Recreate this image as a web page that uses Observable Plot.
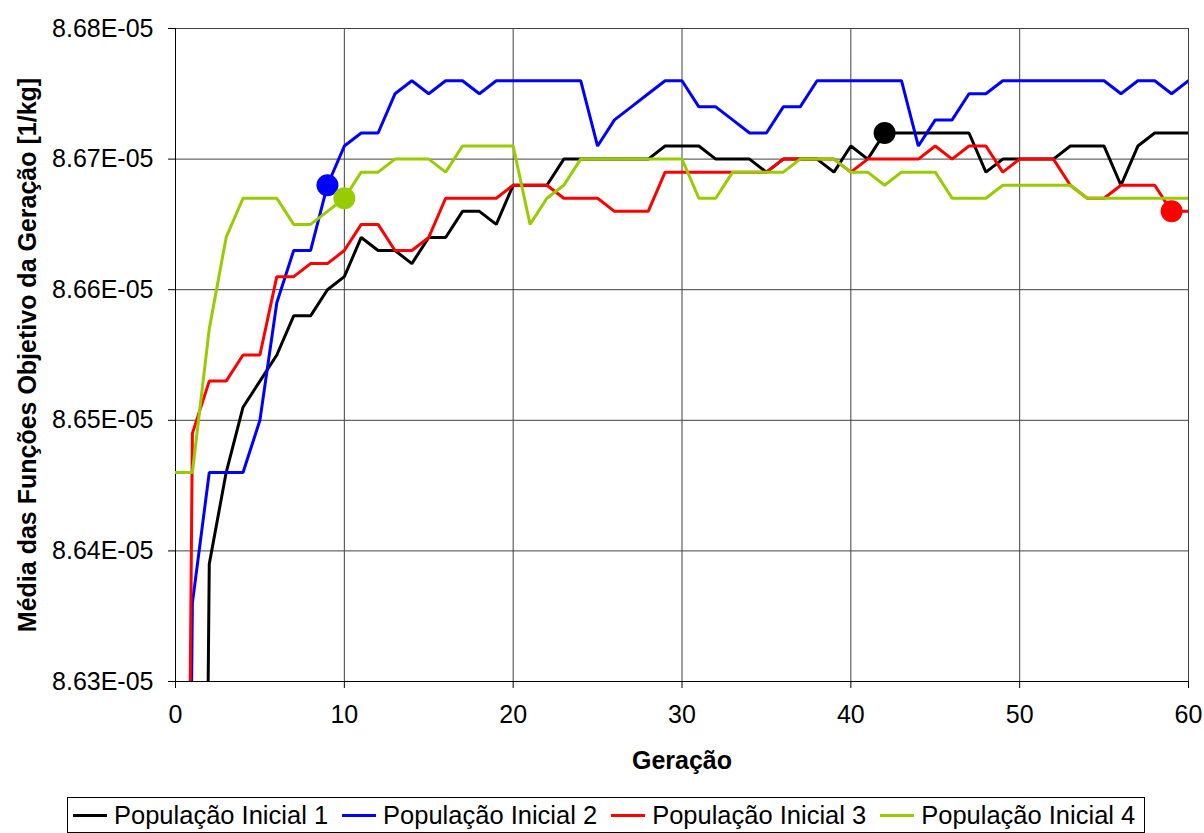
<!DOCTYPE html>
<html>
<head>
<meta charset="utf-8">
<script src="https://cdn.jsdelivr.net/npm/d3@7"></script>
<script src="https://cdn.jsdelivr.net/npm/@observablehq/plot@0.6"></script>
<style>
  html, body { margin: 0; padding: 0; background: #fff; }
  #wrap { position: relative; width: 1204px; height: 833px; overflow: hidden; font-family: Arial, "Liberation Sans", sans-serif; }
  #legend { position: absolute; left: 67px; top: 797px; width: 1071px; height: 34px; border: 1px solid #000; box-sizing: content-box;
            padding-left: 5px; display: flex; align-items: center; font-size: 25.5px; color: #000; white-space: nowrap; }
  .item { display: flex; align-items: center; margin-right: 14px; }
  .sw { width: 34px; height: 3px; margin-right: 7px; }
</style>
</head>
<body>
<div id="wrap"><div id="chart"></div><div id="legend"></div></div>
<script>
// Generations 0..60
const generations = d3.range(0, 61);
const seriesNames = ["População Inicial 1", "População Inicial 2", "População Inicial 3", "População Inicial 4"];
const seriesColors = ["#000000", "#0000FF", "#FF0000", "#99CC00"];
// Values in units of 1E-05 [1/kg]; 8.50 marks early generations far below the visible range
const pop1 = [8.50, 8.50, 8.639, 8.646, 8.651, 8.653, 8.655, 8.658, 8.658, 8.660,
  8.661, 8.664, 8.663, 8.663, 8.662, 8.664, 8.664, 8.666, 8.666, 8.665,
  8.668, 8.668, 8.668, 8.670, 8.670, 8.670, 8.670, 8.670, 8.670, 8.671,
  8.671, 8.671, 8.670, 8.670, 8.670, 8.669, 8.670, 8.670, 8.670, 8.669,
  8.671, 8.670, 8.672, 8.672, 8.672, 8.672, 8.672, 8.672, 8.669, 8.670,
  8.670, 8.670, 8.670, 8.671, 8.671, 8.671, 8.668, 8.671, 8.672, 8.672, 8.672];
const pop2 = [8.50, 8.636, 8.646, 8.646, 8.646, 8.650, 8.659, 8.663, 8.663, 8.668,
  8.671, 8.672, 8.672, 8.675, 8.676, 8.675, 8.676, 8.676, 8.675, 8.676,
  8.676, 8.676, 8.676, 8.676, 8.676, 8.671, 8.673, 8.674, 8.675, 8.676,
  8.676, 8.674, 8.674, 8.673, 8.672, 8.672, 8.674, 8.674, 8.676, 8.676,
  8.676, 8.676, 8.676, 8.676, 8.671, 8.673, 8.673, 8.675, 8.675, 8.676,
  8.676, 8.676, 8.676, 8.676, 8.676, 8.676, 8.675, 8.676, 8.676, 8.675, 8.676];
const pop3 = [8.50, 8.649, 8.653, 8.653, 8.655, 8.655, 8.661, 8.661, 8.662, 8.662,
  8.663, 8.665, 8.665, 8.663, 8.663, 8.664, 8.667, 8.667, 8.667, 8.667,
  8.668, 8.668, 8.668, 8.667, 8.667, 8.667, 8.666, 8.666, 8.666, 8.669,
  8.669, 8.669, 8.669, 8.669, 8.669, 8.669, 8.670, 8.670, 8.670, 8.670,
  8.669, 8.670, 8.670, 8.670, 8.670, 8.671, 8.670, 8.671, 8.671, 8.669,
  8.670, 8.670, 8.670, 8.668, 8.667, 8.667, 8.668, 8.668, 8.668, 8.666, 8.666];
const pop4 = [8.646, 8.646, 8.657, 8.664, 8.667, 8.667, 8.667, 8.665, 8.665, 8.666,
  8.667, 8.669, 8.669, 8.670, 8.670, 8.670, 8.669, 8.671, 8.671, 8.671,
  8.671, 8.665, 8.667, 8.668, 8.670, 8.670, 8.670, 8.670, 8.670, 8.670,
  8.670, 8.667, 8.667, 8.669, 8.669, 8.669, 8.669, 8.670, 8.670, 8.670,
  8.669, 8.669, 8.668, 8.669, 8.669, 8.669, 8.667, 8.667, 8.667, 8.668,
  8.668, 8.668, 8.668, 8.668, 8.667, 8.667, 8.667, 8.667, 8.667, 8.667, 8.667];
// Highlighted generation for each population (large dot)
const highlightGen = [42, 9, 59, 10];
const xTicks = [0, 10, 20, 30, 40, 50, 60];
const yTicks = [8.63, 8.64, 8.65, 8.66, 8.67, 8.68];

const allSeries = [pop1, pop2, pop3, pop4];
const rows = [];
allSeries.forEach((arr, i) => generations.forEach((g, j) => rows.push({series: seriesNames[i], gen: g, value: arr[j]})));
const dots = highlightGen.map((g, i) => ({series: seriesNames[i], gen: g, value: allSeries[i][g]}));

const fmt = d => d.toFixed(2) + "E-05";
const font = "Arial, 'Liberation Sans', sans-serif";

const chart = Plot.plot({
  width: 1204,
  height: 790,
  marginLeft: 175,
  marginRight: 16,
  marginTop: 28,
  marginBottom: 109,
  style: {fontSize: "25px", fontFamily: font, color: "#000", background: "#fff"},
  x: {domain: [0, 60]},
  y: {domain: [8.63, 8.68]},
  color: {domain: seriesNames, range: seriesColors},
  marks: [
    Plot.gridX(xTicks, {stroke: "#404040", strokeOpacity: 1, strokeWidth: 1}),
    Plot.gridY(yTicks, {stroke: "#404040", strokeOpacity: 1, strokeWidth: 1}),
    Plot.axisX({ticks: xTicks, tickSize: 7, tickPadding: 17, label: null, tickFormat: d => String(d)}),
    Plot.axisY({ticks: yTicks, tickSize: 7, tickPadding: 15, label: null, tickFormat: fmt}),
    Plot.ruleX([0], {stroke: "#000", strokeWidth: 1}),
    Plot.ruleY([8.63], {stroke: "#000", strokeWidth: 1}),
    Plot.lineY(rows, {x: "gen", y: "value", z: "series", stroke: "series", strokeWidth: 3, clip: true, strokeLinejoin: "miter"}),
    Plot.dot(dots, {x: "gen", y: "value", fill: "series", r: 11}),
    Plot.text(["Geração"], {frameAnchor: "bottom", dy: 79, textAnchor: "middle", lineAnchor: "middle", text: d => d, fontSize: 25, fontWeight: "bold", fontFamily: font, fill: "#000"}),
    Plot.text(["Média das Funções Objetivo da Geração [1/kg]"], {frameAnchor: "left", dx: -148, rotate: -90, textAnchor: "middle", lineAnchor: "middle", text: d => d, fontSize: 25, fontWeight: "bold", fontFamily: font, fill: "#000"})
  ]
});
document.getElementById("chart").appendChild(chart);

const legend = document.getElementById("legend");
seriesNames.forEach((name, i) => {
  const item = document.createElement("div");
  item.className = "item";
  const sw = document.createElement("div");
  sw.className = "sw";
  sw.style.background = seriesColors[i];
  const label = document.createElement("span");
  label.textContent = name;
  item.appendChild(sw);
  item.appendChild(label);
  legend.appendChild(item);
});
</script>
</body>
</html>
